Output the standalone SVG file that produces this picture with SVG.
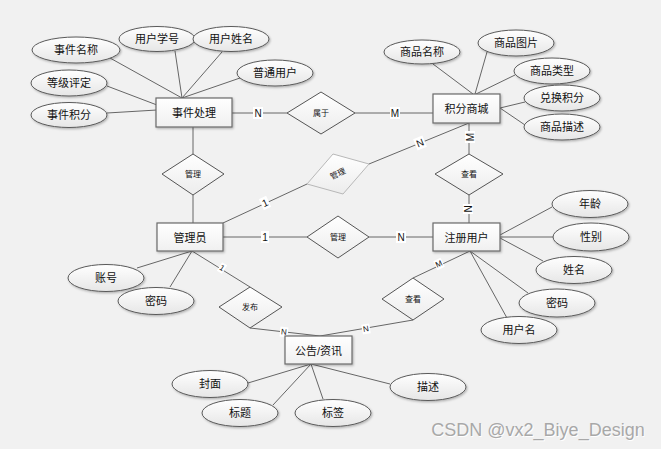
<svg xmlns="http://www.w3.org/2000/svg" width="661" height="449" viewBox="0 0 661 449">
  <defs>
    <linearGradient id="gEll" x1="0" y1="0" x2="0" y2="1">
      <stop offset="0" stop-color="#ffffff"/>
      <stop offset="1" stop-color="#e6e6e6"/>
    </linearGradient>
    <linearGradient id="gBox" x1="0" y1="0" x2="0" y2="1">
      <stop offset="0" stop-color="#ffffff"/>
      <stop offset="1" stop-color="#f0f0f0"/>
    </linearGradient>
    <linearGradient id="gDia" x1="0" y1="0" x2="0" y2="1">
      <stop offset="0" stop-color="#ffffff"/>
      <stop offset="1" stop-color="#ececec"/>
    </linearGradient>
    <filter id="sh" x="-20%" y="-20%" width="140%" height="150%">
      <feDropShadow dx="1" dy="1.2" stdDeviation="0.8" flood-color="#000" flood-opacity="0.28"/>
    </filter>
  </defs>
  <style>
    .ent rect { fill: url(#gBox); stroke: #6a6a6a; stroke-width: 1.2; filter: url(#sh); }
    .att ellipse { fill: url(#gEll); stroke: #5a5a5a; stroke-width: 1; filter: url(#sh); }
    .rel polygon { fill: url(#gDia); stroke: #555; stroke-width: 1; }
    .rel.soft polygon { stroke: #b8b8b8; }
    text { font-family: "Liberation Sans", "Noto Sans CJK SC", sans-serif; fill: #111; text-anchor: middle; dominant-baseline: central; }
    .ent text { font-size: 11px; }
    .att text { font-size: 11px; }
    .rel text { font-size: 8px; }
    #links line { stroke: #666; stroke-width: 1; }
    .card rect { fill: #ffffff; }
    .card text { font-size: 10px; }
    .card.sm text { font-size: 8px; }
  </style>

  <rect width="661" height="449" fill="#f1f1f1"/>

  <!-- connectors -->
  <g id="links">
    <!-- 事件处理 attributes -->
    <line x1="110" y1="58" x2="182" y2="98"/>
    <line x1="175" y1="51" x2="182" y2="98"/>
    <line x1="222" y1="52" x2="182" y2="98"/>
    <line x1="240" y1="78" x2="182" y2="98"/>
    <line x1="107" y1="86" x2="157" y2="105"/>
    <line x1="107" y1="113" x2="157" y2="110"/>
    <!-- 事件处理 - 属于 - 积分商城 -->
    <line x1="232" y1="113" x2="287" y2="113"/>
    <line x1="355" y1="113" x2="433" y2="113"/>
    <!-- 积分商城 attributes -->
    <line x1="433" y1="64" x2="473" y2="94"/>
    <line x1="487" y1="52" x2="475" y2="94"/>
    <line x1="515" y1="75" x2="476" y2="94"/>
    <line x1="525" y1="102" x2="500" y2="108"/>
    <line x1="525" y1="125" x2="500" y2="108"/>
    <!-- 事件处理 - 管理 - 管理员 -->
    <line x1="193" y1="127" x2="193" y2="154"/>
    <line x1="193" y1="195" x2="193" y2="223"/>
    <!-- 管理员 - 管理 - 积分商城 -->
    <line x1="223" y1="223" x2="307" y2="184"/>
    <line x1="369" y1="164" x2="469" y2="123"/>
    <!-- 积分商城 - 查看 - 注册用户 -->
    <line x1="469" y1="123" x2="469" y2="154"/>
    <line x1="469" y1="195" x2="469" y2="223"/>
    <!-- 管理员 - 管理 - 注册用户 -->
    <line x1="223" y1="237" x2="307" y2="237"/>
    <line x1="369" y1="237" x2="433" y2="237"/>
    <!-- 注册用户 attributes -->
    <line x1="500" y1="235" x2="552" y2="207"/>
    <line x1="500" y1="237" x2="554" y2="237"/>
    <line x1="500" y1="238" x2="543" y2="261"/>
    <line x1="470" y1="251" x2="528" y2="293"/>
    <line x1="470" y1="251" x2="507" y2="318"/>
    <!-- 管理员 attributes and 发布 -->
    <line x1="192" y1="251" x2="137" y2="268"/>
    <line x1="192" y1="251" x2="170" y2="287"/>
    <line x1="192" y1="251" x2="250" y2="287"/>
    <line x1="250" y1="328" x2="320" y2="336"/>
    <!-- 注册用户 - 查看 - 公告/资讯 -->
    <line x1="413" y1="320" x2="320" y2="336"/>
    <line x1="413" y1="278" x2="470" y2="251"/>
    <!-- 公告/资讯 attributes -->
    <line x1="311" y1="364" x2="248" y2="383"/>
    <line x1="311" y1="364" x2="273" y2="405"/>
    <line x1="311" y1="364" x2="323" y2="399"/>
    <line x1="311" y1="364" x2="390" y2="384"/>

    <!-- cardinality labels -->
    <g class="card">
      <g transform="translate(258,113)"><rect x="-5" y="-6" width="10" height="12"/><text>N</text></g>
      <g transform="translate(395,113)"><rect x="-5" y="-6" width="10" height="12"/><text>M</text></g>
      <g transform="translate(265,203) rotate(-25)"><rect x="-4" y="-6" width="8" height="12"/><text>1</text></g>
      <g transform="translate(420,143) rotate(-22)"><rect x="-5" y="-6" width="10" height="12"/><text>N</text></g>
      <g transform="translate(470,137) rotate(-90)"><rect x="-6" y="-5" width="12" height="10"/><text>M</text></g>
      <g transform="translate(468,209) rotate(-90)"><rect x="-5" y="-5" width="10" height="10"/><text>N</text></g>
      <g transform="translate(265,237)"><rect x="-4" y="-6" width="8" height="12"/><text>1</text></g>
      <g transform="translate(401,237)"><rect x="-5" y="-6" width="10" height="12"/><text>N</text></g>
    </g>
    <g class="card sm">
      <g transform="translate(222,268) rotate(32)"><rect x="-3" y="-5" width="6" height="10"/><text>1</text></g>
      <g transform="translate(284,332) rotate(6)"><rect x="-4" y="-5" width="8" height="10"/><text>N</text></g>
      <g transform="translate(366,329) rotate(-10)"><rect x="-4" y="-5" width="8" height="10"/><text>N</text></g>
      <g transform="translate(439,264) rotate(-25)"><rect x="-4" y="-5" width="8" height="10"/><text>M</text></g>
    </g>
  </g>

  <!-- entities -->
  <g id="e-event" class="ent"><rect x="156" y="98" width="76" height="29"/><text x="194" y="113">事件处理</text></g>
  <g id="e-mall" class="ent"><rect x="433" y="94" width="67" height="29"/><text x="466.5" y="109">积分商城</text></g>
  <g id="e-admin" class="ent"><rect x="157" y="223" width="66" height="28"/><text x="190" y="237.5">管理员</text></g>
  <g id="e-user" class="ent"><rect x="433" y="223" width="67" height="28"/><text x="466.5" y="237.5">注册用户</text></g>
  <g id="e-notice" class="ent"><rect x="285" y="336" width="67" height="28"/><text x="318.5" y="350.5">公告/资讯</text></g>

  <!-- relationships -->
  <g id="r-belong" class="rel"><polygon points="287,113 321,92 355,113 321,134"/><text x="321" y="113">属于</text></g>
  <g id="r-manage1" class="rel"><polygon points="162,174 193,154 224,174 193,195"/><text x="193" y="174.5">管理</text></g>
  <g id="r-manage2" class="rel soft"><polygon points="333,154 369,164 343,194 307,184"/><text x="338" y="174" transform="rotate(-25 338 174)">管理</text></g>
  <g id="r-view1" class="rel"><polygon points="435,174 469,154 503,174 469,195"/><text x="469" y="174.5">查看</text></g>
  <g id="r-manage3" class="rel"><polygon points="307,237 338,216 369,237 338,258"/><text x="338" y="237">管理</text></g>
  <g id="r-publish" class="rel"><polygon points="219,307 250,287 282,307 250,328"/><text x="250" y="307">发布</text></g>
  <g id="r-view2" class="rel"><polygon points="382,299 413,278 444,299 413,320"/><text x="413" y="299">查看</text></g>

  <!-- attributes -->
  <g id="a-evname" class="att"><ellipse cx="76" cy="50" rx="44" ry="13"/><text x="76" y="50">事件名称</text></g>
  <g id="a-stuno" class="att"><ellipse cx="157" cy="39" rx="38" ry="12.5"/><text x="157" y="39">用户学号</text></g>
  <g id="a-uname" class="att"><ellipse cx="231" cy="39" rx="38" ry="12.5"/><text x="231" y="39">用户姓名</text></g>
  <g id="a-normal" class="att"><ellipse cx="275" cy="73" rx="38" ry="13"/><text x="275" y="73">普通用户</text></g>
  <g id="a-level" class="att"><ellipse cx="69" cy="83" rx="38" ry="13"/><text x="69" y="83">等级评定</text></g>
  <g id="a-evpts" class="att"><ellipse cx="69" cy="115" rx="38" ry="12.5"/><text x="69" y="115">事件积分</text></g>

  <g id="a-gname" class="att"><ellipse cx="422" cy="52" rx="38" ry="12"/><text x="422" y="52">商品名称</text></g>
  <g id="a-gpic" class="att"><ellipse cx="516" cy="43" rx="38" ry="13"/><text x="516" y="43">商品图片</text></g>
  <g id="a-gtype" class="att"><ellipse cx="552" cy="71" rx="38" ry="13"/><text x="552" y="71">商品类型</text></g>
  <g id="a-gpts" class="att"><ellipse cx="562" cy="98" rx="38" ry="13"/><text x="562" y="98">兑换积分</text></g>
  <g id="a-gdesc" class="att"><ellipse cx="562" cy="127" rx="38" ry="13"/><text x="562" y="127">商品描述</text></g>

  <g id="a-age" class="att"><ellipse cx="590" cy="204" rx="38" ry="13.5"/><text x="590" y="204">年龄</text></g>
  <g id="a-sex" class="att"><ellipse cx="591" cy="237" rx="38" ry="14"/><text x="591" y="237">性别</text></g>
  <g id="a-name" class="att"><ellipse cx="574" cy="270" rx="38" ry="13.5"/><text x="574" y="270">姓名</text></g>
  <g id="a-upwd" class="att"><ellipse cx="557" cy="303" rx="38" ry="14"/><text x="557" y="303">密码</text></g>
  <g id="a-login" class="att"><ellipse cx="519" cy="330" rx="38" ry="13.5"/><text x="519" y="330">用户名</text></g>

  <g id="a-acct" class="att"><ellipse cx="106" cy="278" rx="38" ry="13.5"/><text x="106" y="278">账号</text></g>
  <g id="a-apwd" class="att"><ellipse cx="156" cy="301" rx="38" ry="13.5"/><text x="156" y="301">密码</text></g>

  <g id="a-cover" class="att"><ellipse cx="210" cy="384" rx="38" ry="13.5"/><text x="210" y="384">封面</text></g>
  <g id="a-title" class="att"><ellipse cx="240" cy="413" rx="38" ry="13.5"/><text x="240" y="413">标题</text></g>
  <g id="a-tag" class="att"><ellipse cx="333" cy="413" rx="38" ry="13.5"/><text x="333" y="413">标签</text></g>
  <g id="a-desc" class="att"><ellipse cx="428" cy="387" rx="38" ry="13.5"/><text x="428" y="387">描述</text></g>

  <!-- watermark -->
  <text x="538" y="430" style="font-size:18px;fill:#ffffff;" dx="0.8" dy="0.8">CSDN @vx2_Biye_Design</text>
  <text x="538" y="430" style="font-size:18px;fill:#a8a8a8;">CSDN @vx2_Biye_Design</text>
</svg>
